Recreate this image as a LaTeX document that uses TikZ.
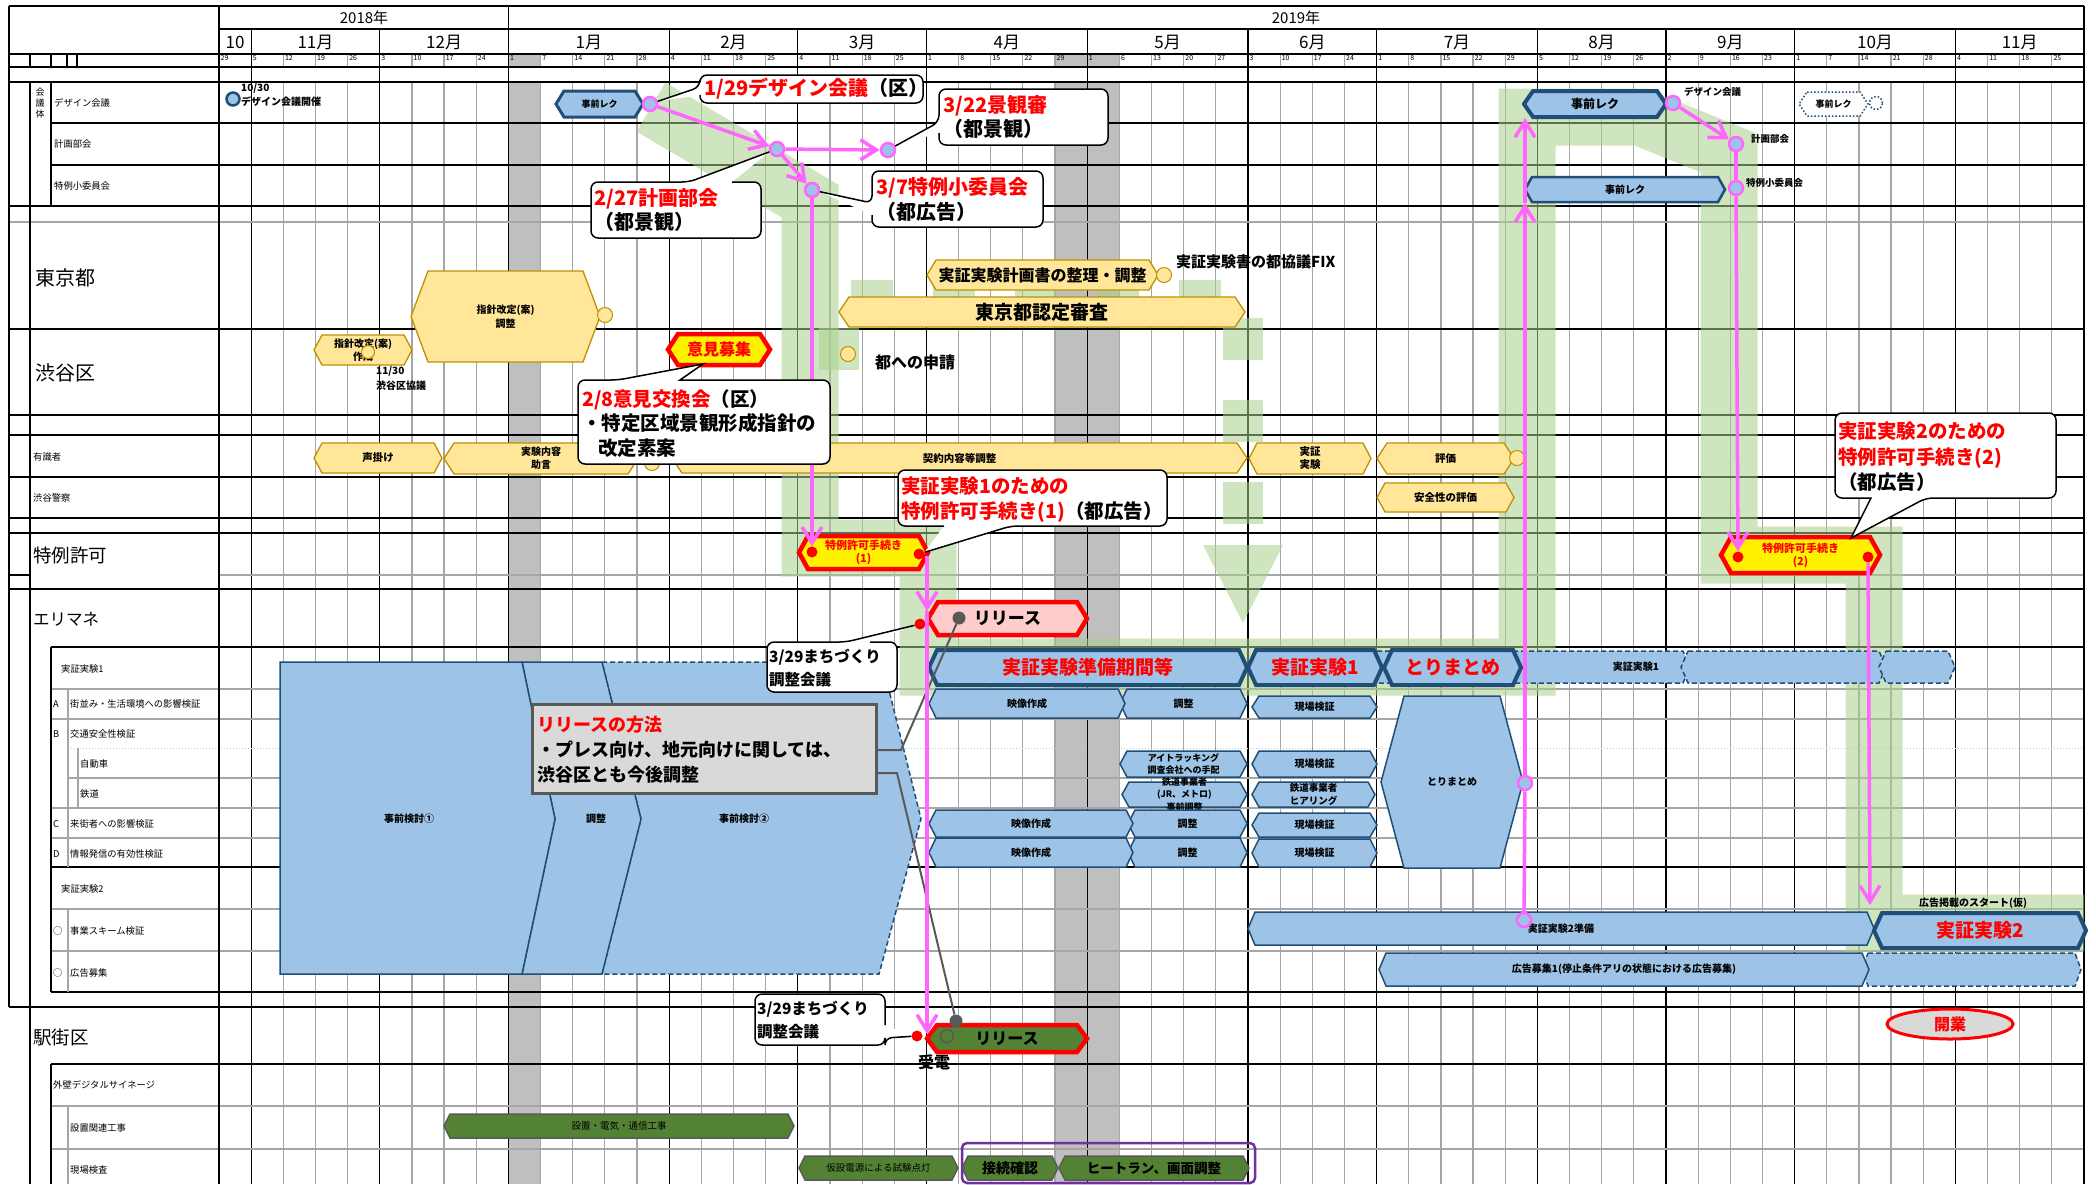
\documentclass[tikz,border=0pt]{standalone}
\usepackage{fontspec}
\setmainfont{Noto Sans CJK JP}
\usetikzlibrary{arrows.meta,shapes.geometric}
\definecolor{bfill}{HTML}{9DC3E6}
\definecolor{bdraw}{HTML}{1F4E79}
\definecolor{yfill}{HTML}{FFE699}
\definecolor{ydraw}{HTML}{BF9000}
\definecolor{pinkc}{HTML}{FF66FF}
\definecolor{gfill}{HTML}{548235}
\definecolor{gband}{HTML}{A9D18E}
\definecolor{gridg}{HTML}{A6A6A6}
\definecolor{holi}{HTML}{BFBFBF}
\definecolor{relpink}{HTML}{FFCCCC}
\definecolor{purp}{HTML}{7030A0}
\definecolor{callg}{HTML}{D9D9D9}
\definecolor{darkg}{HTML}{595959}
\def\cw{32.155}
\newcommand\hx[9]{%
  \path[#2] ({#3+#7},#5) -- ({#4-#7},#5) -- (#4,{(#5+#6)/2}) -- ({#4-#7},#6) -- ({#3+#7},#6) -- (#3,{(#5+#6)/2}) -- cycle;
  \node[#8] (#1) at ({(#3+#4)/2},{(#5+#6)/2}) {#9};}
\newcommand\cL[7]{\draw[callout] (#1,#6) {[rounded corners=7pt] -- (#1,#4) -- (#3,#4) -- (#3,#2) -- (#1,#2) -- (#1,#5)} -- #7 -- cycle;}
\newcommand\cT[7]{\draw[callout] (#6,#2) {[rounded corners=7pt] -- (#3,#2) -- (#3,#4) -- (#1,#4) -- (#1,#2) -- (#5,#2)} -- #7 -- cycle;}
\newcommand\cB[7]{\draw[callout] (#5,#4) {[rounded corners=7pt] -- (#1,#4) -- (#1,#2) -- (#3,#2) -- (#3,#4) -- (#6,#4)} -- #7 -- cycle;}
\newcommand\cR[7]{\draw[callout] (#3,#5) {[rounded corners=7pt] -- (#3,#2) -- (#1,#2) -- (#1,#4) -- (#3,#4) -- (#3,#6)} -- #7 -- cycle;}
\begin{document}
\begin{tikzpicture}[x=1pt,y=-1pt,
  tb/.style 2 args={inner sep=0pt, align=center, font=\bfseries\fontsize{#1}{#2}\selectfont},
  tr/.style 2 args={inner sep=0pt, align=center, font=\fontsize{#1}{#2}\selectfont},
  lb/.style={tr={9.3}{10}, anchor=west},
  bb/.style={fill=bfill, draw=bdraw, line width=1.5pt},
  bt/.style={fill=bfill, draw=bdraw, line width=4pt},
  bd/.style={fill=bfill, draw=bdraw, line width=1.5pt, dash pattern=on 5pt off 3pt},
  dotbox/.style={fill=white, draw=bdraw, line width=1.5pt, dotted},
  yb/.style={fill=yfill, draw=ydraw, line width=1.3pt},
  rb/.style={fill=yellow, draw=red, line width=4.5pt},
  gb/.style={fill=gfill, draw=darkg, line width=1.5pt},
  pdot/.style={circle, draw=pinkc, fill=bfill, line width=2.5pt, minimum size=14pt, inner sep=0pt},
  rdot/.style={circle, fill=red, minimum size=11pt, inner sep=0pt},
  gdot/.style={circle, fill=darkg, minimum size=13pt, inner sep=0pt},
  ycirc/.style={circle, fill=yfill, draw=ydraw, line width=1pt, minimum size=15pt, inner sep=0pt},
  parr/.style={draw=pinkc, line width=3.5pt, -{Straight Barb[length=16pt,width=20pt]}},
  pln/.style={draw=pinkc, line width=3.5pt},
  gline/.style={draw=darkg, line width=2pt},
  callout/.style={fill=white, draw=black, line width=1.5pt},
  band/.style={draw=gband, line width=57pt, opacity=0.55, line join=miter}
]
\useasboundingbox (0,0) rectangle (2096,1184);
\fill[white] (0,0) rectangle (2096,1184);

% holiday columns
\foreach \i in {9,26,27} {
  \fill[holi] ({219+\cw*\i},54) rectangle ({219+\cw*(\i+1)},67);
  \fill[holi] ({219+\cw*\i},82) rectangle ({219+\cw*(\i+1)},1184);
}
% weekly grid
\foreach \i in {1,...,57} {
  \draw[gridg, line width=1.2pt] ({219+\cw*\i},54) -- ({219+\cw*\i},67);
  \draw[gridg, line width=1.2pt] ({219+\cw*\i},82) -- ({219+\cw*\i},1184);
}
\foreach \i in {1,5,14,18,22,27,32,36,41,45,49,54} {
  \draw[line width=1.3pt] ({219+\cw*\i},29) -- ({219+\cw*\i},1184);
}
\draw[line width=1.5pt] ({219+\cw*9},6) -- ({219+\cw*9},1184);

% horizontal lines
\draw[line width=1.5pt] (9,6) -- (2084,6);
\draw[line width=1.2pt] (219,29) -- (2084,29);
\draw[line width=1.2pt] (9,54) -- (2084,54);
\draw[line width=2.5pt] (9,67) -- (2084,67);
\draw[line width=2.5pt] (9,82) -- (2084,82);
\foreach \y/\x in {123/51,165/51,206/9,329/9,415/9,435/9,477/9,518/9,533/9,589/9,647/51,867/51,992/51,1064/51} {
  \draw[line width=1.3pt] (\x,\y) -- (2084,\y);
}
\foreach \y/\x in {222/9,689/51,719/51,778/68,808/51,838/51,909/51,951/51,1106/51,1149/51} {
  \draw[gridg, line width=1.5pt] (\x,\y) -- (2084,\y);
}
\draw[gridg!60, line width=1pt, dotted] (68,748) -- (2084,748);
\draw[gridg, line width=1.5pt] (219,575) -- (2084,575);
\draw[line width=1.2pt] (9,575) -- (30,575);
\draw[line width=2.5pt] (9,1007) -- (2084,1007);
% vertical borders
\draw[line width=1.3pt] (9,6) -- (9,1007);
\draw[line width=1.3pt] (30,82) -- (30,1184);
\draw[line width=1.3pt] (51,82) -- (51,206);
\draw[line width=1.3pt] (51,647) -- (51,992);
\draw[line width=1.3pt] (51,1064) -- (51,1184);
\draw[gridg, line width=1.3pt] (68,689) -- (68,867);
\draw[gridg, line width=1.3pt] (68,909) -- (68,992);
\draw[gridg, line width=1.3pt] (68,1106) -- (68,1184);
\draw[gridg, line width=1.3pt] (78,748) -- (78,808);
\foreach \x in {30,51,67,77} { \draw[line width=1.2pt] (\x,54) -- (\x,67); }
\draw[line width=1.8pt] (219,6) -- (219,1184);
\draw[line width=1.5pt] (2084,6) -- (2084,1184);

% header text
\node[tr={15}{16}] (y18) at (364,18) {2018年};
\node[tr={15}{16}] (y19) at (1296,18) {2019年};
\foreach \a/\b/\m in {0/1/10,1/5/11月,5/9/12月,9/14/1月,14/18/2月,18/22/3月,22/27/4月,27/32/5月,32/36/6月,36/41/7月,41/45/8月,45/49/9月,49/54/10月,54/58/11月} {
  \node[tr={17}{18}] (mo\a) at ({219+\cw*(\a+\b)/2},42) {\m};
}
\foreach \i/\d in {0/29,1/5,2/12,3/19,4/26,5/3,6/10,7/17,8/24,9/1,10/7,11/14,12/21,13/28,14/4,15/11,16/18,17/25,18/4,19/11,20/18,21/25,22/1,23/8,24/15,25/22,26/29,27/1,28/6,29/13,30/20,31/27,32/3,33/10,34/17,35/24,36/1,37/8,38/15,39/22,40/29,41/5,42/12,43/19,44/26,45/2,46/9,47/16,48/23,49/1,50/7,51/14,52/21,53/28,54/4,55/11,56/18,57/25} {
  \node[tr={7}{7}, anchor=north west] (dy\i) at ({219+\cw*\i+1.5},55.5) {\d};
}

% label column
\node[tr={9}{10}] (kg1) at (40,92) {会};
\node[tr={9}{10}] (kg2) at (40,103) {議};
\node[tr={9}{10}] (kg3) at (40,114) {体};
\node[lb] (la1) at (54,103) {デザイン会議};
\node[lb] (la2) at (54,144) {計画部会};
\node[lb] (la3) at (54,186) {特例小委員会};
\node[tr={20}{22}, anchor=west] (lb1) at (35,278) {東京都};
\node[tr={20}{22}, anchor=west] (lb2) at (35,373) {渋谷区};
\node[lb] (la4) at (33,457) {有識者};
\node[lb] (la5) at (33,498) {渋谷警察};
\node[tr={18.5}{20}, anchor=west] (lb3) at (33,555) {特例許可};
\node[tr={16.5}{18}, anchor=west] (lb4) at (33,619) {エリマネ};
\node[lb] (la6) at (61,669) {実証実験1};
\node[lb] (la7) at (53,704) {A};
\node[lb] (la8) at (70,704) {街並み・生活環境への影響検証};
\node[lb] (la9) at (53,734) {B};
\node[lb] (la10) at (70,734) {交通安全性検証};
\node[lb] (la11) at (80,764) {自動車};
\node[lb] (la12) at (80,794) {鉄道};
\node[lb] (la13) at (53,824) {C};
\node[lb] (la14) at (70,824) {来街者への影響検証};
\node[lb] (la15) at (53,854) {D};
\node[lb] (la16) at (70,854) {情報発信の有効性検証};
\node[lb] (la17) at (61,889) {実証実験2};
\node[lb] (la18) at (53,931) {○};
\node[lb] (la19) at (70,931) {事業スキーム検証};
\node[lb] (la20) at (53,973) {○};
\node[lb] (la21) at (70,973) {広告募集};
\node[tr={18.5}{20}, anchor=west] (lb5) at (33,1037) {駅街区};
\node[lb] (la22) at (53,1085) {外壁デジタルサイネージ};
\node[lb] (la23) at (70,1128) {設置関連工事};
\node[lb] (la24) at (70,1170) {現場検査};

% green highlight bands
\begin{scope}
\clip (219,82) rectangle (2084,1184);
\draw[band] (651,107) -- (810,201) -- (810,548) -- (928,548) -- (928,667) -- (1527,667) -- (1527,117) -- (1640,117) -- (1729,153) -- (1729,555) -- (1874,555) -- (1874,923) -- (2090,923);
\draw[band, line width=40pt, dash pattern=on 42pt off 40pt] (839,370) -- (839,300) -- (1243,300) -- (1243,540);
\fill[gband, opacity=0.55] (1203,545) -- (1283,545) -- (1243,623) -- cycle;
\end{scope}

% big blue pre-study area
\path[bd] (602,662) -- (882,662) -- (921,819) -- (879,974) -- (602,974) -- (641,819) -- cycle;
\path[bb] (522,662) -- (602,662) -- (641,819) -- (602,974) -- (522,974) -- (555,819) -- cycle;
\path[bb] (280,662) -- (522,662) -- (555,819) -- (522,974) -- (280,974) -- cycle;
\node[tb={10}{12}] (zk1) at (409,819) {事前検討①};
\node[tb={10}{12}] (zk2) at (596,819) {調整};
\node[tb={10}{12}] (zk3) at (744,819) {事前検討②};

% meeting row
\node[circle, fill=bfill, draw=bdraw, line width=2.5pt, minimum size=13pt, inner sep=0pt] (bc1) at (233,99) {};
\node[tb={10}{11}, anchor=west] (t1030) at (241,88) {10/30};
\node[tb={10}{11}, anchor=west] (tdk) at (241,102) {デザイン会議開催};
\hx{jz1}{bt, line width=3pt}{556}{643}{91}{117}{8}{tb={9}{10}}{事前レク}
\hx{jz2}{bt}{1524}{1666}{91}{117}{9}{tb={12}{13}}{事前レク}
\hx{jz3}{dotbox}{1799}{1868}{92}{116}{8}{tb={9}{10}}{事前レク}
\node[circle, draw=bdraw, dotted, line width=1.5pt, minimum size=13pt, inner sep=0pt, fill=white] (dc1) at (1876,103) {};
\hx{jz4}{bb, line width=2.5pt}{1525}{1725}{177}{202}{7}{tb={10}{11}}{事前レク}
\node[tb={9.5}{10}, anchor=west] (tdz) at (1684,92) {デザイン会議};
\node[tb={9.5}{10}, anchor=west] (tkb) at (1751,139) {計画部会};
\node[tb={9.5}{10}, anchor=west] (ttk) at (1746,183) {特例小委員会};

% Tokyo / Shibuya rows
\hx{sh1}{yb}{411}{600}{271}{362}{17}{tb={10}{14}}{指針改定(案)\\調整}
\node[ycirc] (yc1) at (605,315) {};
\hx{jk1}{yb}{927}{1158}{260}{290}{9}{tb={16}{17}}{実証実験計画書の整理・調整}
\node[ycirc] (yc2) at (1164,275) {};
\node[tb={15}{16}, anchor=west] (tfix) at (1176,262) {実証実験書の都協議FIX};
\hx{ni1}{yb}{839}{1245}{297}{327}{10}{tb={19}{20}}{東京都認定審査}
\hx{sh2}{yb}{314}{412}{335}{365}{8}{tb={10}{13}}{指針改定(案)\\作成}
\node[ycirc, minimum size=13pt] (yc3) at (368,352) {};
\node[tb={10}{11}, anchor=west] (t1130) at (376,371) {11/30};
\node[tb={10}{11}, anchor=west] (tsk) at (376,386) {渋谷区協議};
\hx{ik1}{rb}{668}{770}{334}{365}{10}{tb={16}{17}, text=red}{意見募集}
\coordinate (ikp) at (703,364);
\node[ycirc] (yc4) at (848,354) {};
\node[tb={16}{17}, anchor=west] (tsn) at (875,362) {都への申請};

% experts / police
\hx{ko1}{yb}{314}{442}{443}{473}{8}{tb={10.5}{12}}{声掛け}
\hx{jn1}{yb}{444}{638}{443}{474}{10}{tb={10}{13}}{実験内容\\助言}
\node[ycirc] (yc5) at (652,463) {};
\hx{kk1}{yb}{672}{1247}{443}{473}{10}{tb={10.5}{12}}{契約内容等調整}
\hx{jj1}{yb}{1249}{1371}{443}{474}{8}{tb={10.5}{13}}{実証\\実験}
\hx{hy1}{yb}{1377}{1514}{443}{474}{10}{tb={10.5}{12}}{評価}
\node[ycirc] (yc6) at (1517,458) {};
\hx{an1}{yb}{1377}{1514}{483}{512}{8}{tb={10.5}{12}}{安全性の評価}

% special permission
\hx{tk1}{rb}{799}{928}{536}{569}{9}{tb={11}{13}, text=red}{特例許可手続き\\(1)}
\hx{tk2}{rb}{1721}{1880}{537}{573}{10}{tb={11}{13}, text=red}{特例許可手続き\\(2)}
\coordinate (tkp) at (1851,538);

% area management
\hx{re1}{rb, fill=relpink}{928}{1087}{602}{635}{10}{tb={17}{18}}{リリース}
\hx{dx1}{bd}{1370}{1690}{651}{683}{7}{tb={10}{12}, xshift=106pt}{実証実験1}
\hx{dx2}{bd}{1681}{1886}{651}{683}{7}{tb={10}{12}}{}
\hx{dx3}{bd}{1879}{1955}{651}{683}{7}{tb={10}{12}}{}
\hx{jb1}{bt}{929}{1247}{650}{685}{8}{tb={19}{20}, text=red}{実証実験準備期間等}
\hx{jx1}{bt}{1248}{1382}{650}{685}{8}{tb={19}{20}, text=red}{実証実験1}
\hx{tm1}{bt}{1384}{1521}{650}{685}{8}{tb={19}{20}, text=red}{とりまとめ}
\hx{ch1}{bb}{1120}{1247}{689}{718}{7}{tb={10}{12}}{調整}
\hx{ei1}{bb}{929}{1125}{689}{718}{7}{tb={10}{12}}{映像作成}
\hx{gk1}{bb}{1252}{1377}{696}{718}{7}{tb={10}{12}}{現場検証}
\hx{tm2}{bb}{1381}{1523}{696}{868}{23}{tb={10}{12}}{とりまとめ}
\hx{ai1}{bb}{1120}{1247}{751}{777}{7}{tb={9}{12}}{アイトラッキング\\調査会社への手配}
\hx{gk2}{bb}{1252}{1377}{751}{777}{7}{tb={10}{12}}{現場検証}
\hx{tj1}{bb}{1122}{1247}{782}{807}{7}{tb={9}{12.5}}{鉄道事業者\\(JR、メトロ)\\事前調整}
\hx{th1}{bb}{1252}{1375}{782}{807}{7}{tb={9.5}{13}}{鉄道事業者\\ヒアリング}
\hx{ch2}{bb}{1128}{1247}{810}{837}{7}{tb={10}{12}}{調整}
\hx{ei2}{bb}{929}{1133}{810}{837}{7}{tb={10}{12}}{映像作成}
\hx{gk3}{bb}{1252}{1377}{813}{837}{7}{tb={10}{12}}{現場検証}
\hx{ch3}{bb}{1128}{1247}{838}{867}{7}{tb={10}{12}}{調整}
\hx{ei3}{bb}{929}{1133}{838}{867}{7}{tb={10}{12}}{映像作成}
\hx{gk4}{bb}{1252}{1377}{839}{867}{7}{tb={10}{12}}{現場検証}
\hx{jp1}{bb}{1248}{1874}{912}{945}{7}{tb={10}{12}}{実証実験2準備}
\hx{jv2}{bt}{1874}{2086}{913}{948}{8}{tb={19}{20}, text=red}{実証実験2}
\node[tb={10}{11}, anchor=west] (tks) at (1919,903) {広告掲載のスタート(仮)};
\hx{kb2}{bd}{1862}{2081}{953}{986}{6}{tb={10}{12}}{}
\hx{kb1}{bb}{1379}{1869}{953}{986}{7}{tb={10}{12}}{広告募集1(停止条件アリの状態における広告募集)}

% station district
\hx{re2}{rb, fill=gfill}{927}{1087}{1025}{1052}{10}{tb={16}{17}}{リリース}
\node[circle, draw=darkg, line width=1.5pt, minimum size=13pt, inner sep=0pt] (go1) at (947,1036) {};
\node[tb={16}{17}] (tjd) at (934,1062) {受電};
\node[ellipse, draw=red, line width=3pt, fill=callg, minimum width=126pt, minimum height=30pt, inner sep=0pt, font=\bfseries\fontsize{16}{17}\selectfont, text=red] (kgy) at (1950,1024) {開業};
\hx{sd1}{gb}{444}{794}{1114}{1138}{6}{tr={9.5}{11}}{設置・電気・通信工事}
\hx{ks1}{gb}{799}{958}{1156}{1180}{6}{tr={9.5}{11}}{仮設電源による試験点灯}
\hx{sz1}{gb}{962}{1058}{1156}{1180}{6}{tb={14}{15}}{接続確認}
\hx{ht1}{gb}{1059}{1249}{1156}{1180}{6}{tb={13.5}{15}}{ヒートラン、画面調整}
\draw[purp, line width=2.5pt, rounded corners=5pt] (962,1143) rectangle (1255,1183);

% dots
\node[pdot] (pd1) at (650,104) {};
\node[pdot] (pd2) at (777,149) {};
\node[pdot] (pd3) at (888,150) {};
\node[pdot] (pd4) at (812,190) {};
\node[pdot] (pd5) at (1524,920) {};
\node[pdot] (pd6) at (1525,783) {};
\node[pdot] (pd7) at (1673,103) {};
\node[pdot] (pd8) at (1736,144) {};
\node[pdot] (pd9) at (1736,188) {};
\node[rdot] (rd1) at (812,552) {};
\node[rdot] (rd2) at (919,554) {};
\node[rdot] (rd3) at (1738,557) {};
\node[rdot] (rd4) at (1868,557) {};
\node[rdot] (rd5) at (920,624) {};
\node[rdot] (rd6) at (917,1036) {};
\node[gdot] (gd1) at (959,618) {};
\node[gdot] (gd2) at (956,1021) {};

% gray connectors from release note
\coordinate (g1a) at (901,750); \coordinate (g1b) at (876,750);
\coordinate (g2a) at (897,773); \coordinate (g2b) at (876,773);
\draw[gline] (gd1) -- (g1a) -- (g1b);
\draw[gline] (gd2) -- (g2a) -- (g2b);

% pink flow arrows
\coordinate (k1) at (927,556); \coordinate (k2) at (927,611); \coordinate (k3) at (927,1034);
\coordinate (k4) at (1525,203); \coordinate (k5) at (1525,118);
\coordinate (k6) at (1870,905);
\draw[parr] (pd1) -- (pd2);
\draw[parr] (pd2) -- (pd3);
\draw[parr] (pd2) -- (pd4);
\draw[parr] (pd4) -- (rd1);
\draw[parr] (k1) -- (k2);
\draw[parr] (k2) -- (k3);
\draw[pln] (pd5) -- (pd6);
\draw[parr] (pd6) -- (k4);
\draw[parr] (k4) -- (k5);
\draw[parr] (pd7) -- (pd8);
\draw[pln] (pd8) -- (pd9);
\draw[parr] (pd9) -- (rd3);
\draw[parr] (rd4) -- (k6);

% callouts
\cL{700}{75}{923}{103}{87}{95}{(pd1)}
\node[tb={20}{22}, anchor=west] (ct1) at (704,89) {\textcolor{red}{1/29デザイン会議}（区）};
\cL{939}{89}{1108}{145}{122}{133}{(pd3)}
\node[tb={20}{24}, anchor=north west, align=left] (ct2) at (943,95) {\textcolor{red}{3/22景観審}\\（都景観）};
\cT{591}{182}{761}{238}{689}{732}{(pd2)}
\node[tb={20}{24}, anchor=north west, align=left] (ct3) at (594,188) {\textcolor{red}{2/27計画部会}\\（都景観）};
\cL{872}{171}{1043}{227}{203}{215}{(pd4)}
\node[tb={20}{25}, anchor=north west, align=left] (ct4) at (876,177) {\textcolor{red}{3/7特例小委員会}\\（都広告）};
\cT{578}{380}{830}{464}{618}{680}{(ikp)}
\node[tb={19.5}{24.5}, anchor=north west, align=left] (ct5) at (582,389) {\textcolor{red}{2/8意見交換会}（区）\\・特定区域景観形成指針の\\\hspace{16pt}改定素案};
\cB{898}{470}{1167}{526}{944}{1011}{(rd2)}
\node[tb={19.5}{25}, anchor=north west, align=left] (ct6) at (901,477) {\textcolor{red}{実証実験1のための}\\\textcolor{red}{特例許可手続き(1)}（都広告）};
\cT{767}{642}{897}{692}{846}{870}{(rd5)}
\node[tb={15.5}{23}, anchor=north west, align=left] (ct7) at (769,649) {3/29まちづくり\\調整会議};
\cR{755}{994}{885}{1045}{1025}{1038}{(rd6)}
\node[tb={15.5}{23}, anchor=north west, align=left] (ct8) at (757,1001) {3/29まちづくり\\調整会議};
\cB{1835}{413}{2056}{498}{1871}{1926}{(tkp)}
\node[tb={19.5}{25.5}, anchor=north west, align=left] (ct9) at (1838,422) {\textcolor{red}{実証実験2のための}\\\textcolor{red}{特例許可手続き(2)}\\（都広告）};
\draw[fill=callg, draw=darkg, line width=3pt] (532,704) rectangle (876,793);
\node[tb={18}{25}, anchor=north west, align=left] (ct10) at (537,716) {\textcolor{red}{リリースの方法}\\・プレス向け、地元向けに関しては、\\渋谷区とも今後調整};
\end{tikzpicture}
\end{document}
